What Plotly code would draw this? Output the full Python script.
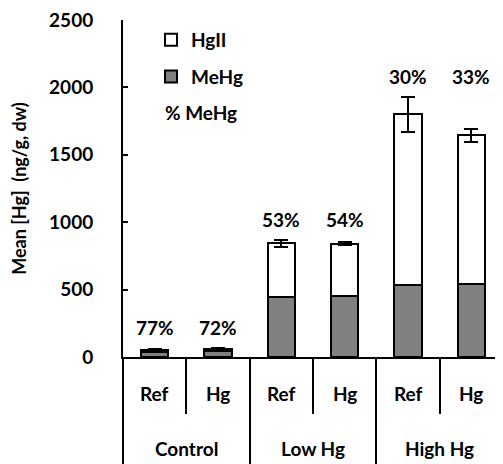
import plotly.graph_objects as go

groups = ["Control", "Low Hg", "High Hg"]
subs = ["Ref", "Hg", "Ref", "Hg", "Ref", "Hg"]
mehg = [40, 43, 447, 455, 535, 543]
hgii = [15, 19, 396, 385, 1265, 1102]
err = [5, 6, 27, 12, 130, 48]
pct_labels = ["77%", "72%", "53%", "54%", "30%", "33%"]
yticks = [0, 500, 1000, 1500, 2000, 2500]

FONT = "Lato"
FS = 19
xs = list(range(len(subs)))

OFF = 8  # page body margin
W, H = 503 - OFF, 464 - OFF
L, R, T, B = 123 - OFF, 0, 20 - OFF, 107
pw, ph = W - L - R, H - T - B

def px_x(x):
    return (x - OFF - L) / pw

def px_y(y):
    return 1 - (y - OFF - T) / ph

def bold(size=FS):
    return dict(family=FONT, size=size, color="black", weight="bold")

fig = go.Figure()
fig.add_trace(go.Bar(
    x=xs, y=mehg, name="MeHg", legendgroup="b", legendrank=2,
    marker=dict(color="#808080", line=dict(color="black", width=2)),
))
fig.add_trace(go.Bar(
    x=xs, y=hgii, name="HgII", legendgroup="a", legendrank=1,
    marker=dict(color="white", line=dict(color="black", width=2)),
    error_y=dict(type="data", array=err, color="black", thickness=2, width=7),
))

tops = [m + h + e for m, h, e in zip(mehg, hgii, err)]
ann = []
for i in xs:
    g = i // 2
    gmax = max(tops[2 * g], tops[2 * g + 1])
    ann.append(dict(x=i, y=gmax + 150, xref="x", yref="y", text=pct_labels[i],
                    showarrow=False, font=bold()))
    ann.append(dict(x=i, y=0, xref="x", yref="paper", yshift=-36, text=subs[i],
                    showarrow=False, yanchor="middle", font=bold()))
for g, name in enumerate(groups):
    ann.append(dict(x=2 * g + 0.5, y=0, xref="x", yref="paper", yshift=-91, text=name,
                    showarrow=False, yanchor="middle", font=bold()))
ann.append(dict(x=px_x(163), y=px_y(112), xref="paper", yref="paper",
                text="% MeHg", showarrow=False, xanchor="left", yanchor="middle",
                font=bold()))

fig.update_layout(
    width=W, height=H,
    margin=dict(l=L, r=R, t=T, b=B, autoexpand=False),
    paper_bgcolor="white", plot_bgcolor="white",
    barmode="stack", bargap=0.57,
    font=bold(),
    showlegend=True,
    legend=dict(x=px_x(151), y=px_y(21), xanchor="left", yanchor="top",
                traceorder="grouped", tracegroupgap=9,
                font=bold(), bgcolor="rgba(0,0,0,0)"),
    annotations=ann,
)

fig.update_xaxes(
    range=[-0.5, 5.5], showgrid=False, zeroline=False, automargin=False,
    showline=True, linecolor="black", linewidth=2,
    tickmode="array", tickvals=[-0.5, 1.5, 3.5, 5.5], ticktext=["", "", "", ""],
    ticks="outside", ticklen=107, tickwidth=2, tickcolor="black",
    minor=dict(tickmode="array", tickvals=[0.5, 2.5, 4.5], ticks="outside",
               ticklen=55, tickwidth=2, tickcolor="black", showgrid=False),
)
fig.update_yaxes(
    range=[0, 2500], showgrid=False, zeroline=False, automargin=False,
    showline=True, linecolor="black", linewidth=2,
    tickmode="array", tickvals=yticks, ticktext=[str(v) for v in yticks],
    ticks="inside", ticklen=5, tickwidth=2, tickcolor="black",
    ticklabelstandoff=24, ticklabeloverflow="allow",
    tickfont=bold(),
    title=dict(text="Mean [Hg]  (ng/g, dw)", standoff=18, font=bold(18)),
)

fig.write_html("out.html")
